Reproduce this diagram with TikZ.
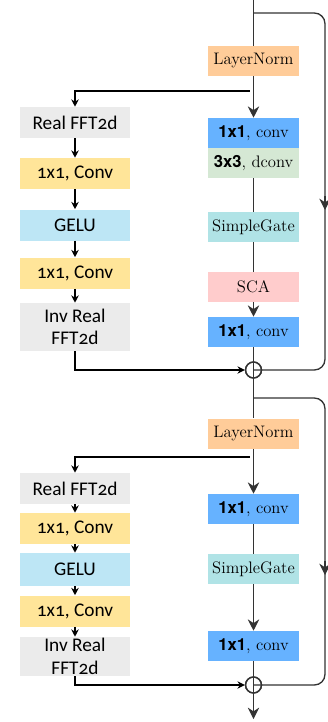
\documentclass[tikz,border=0pt]{standalone}
\usepackage{fontspec}
\newfontfamily\blockfont[Numbers=OldStyle]{Carlito}
\newfontfamily\numfont{TeX Gyre Heros}
\usetikzlibrary{arrows.meta,positioning}

\definecolor{lnorm}{HTML}{FFCC99}
\definecolor{convblue}{HTML}{66B2FF}
\definecolor{dconvgreen}{HTML}{D5E8D4}
\definecolor{sgate}{HTML}{B0E3E6}
\definecolor{scapink}{HTML}{FFCCCC}
\definecolor{fftgray}{HTML}{EBEBEB}
\definecolor{convyellow}{HTML}{FFE599}
\definecolor{gelublue}{HTML}{BDE6F5}
\definecolor{mainline}{HTML}{333333}

\begin{document}
\begin{tikzpicture}[x=0.75pt,y=-0.75pt]
\tikzset{
  mainbox/.style={rectangle,minimum width=68.25pt,minimum height=22.5pt,inner sep=0pt,font=\fontsize{12.5}{14}\selectfont},
  sidebox/.style={rectangle,minimum width=82.5pt,minimum height=23.25pt,inner sep=0pt,align=center,font=\blockfont\fontsize{14.5}{17}\selectfont},
  sumnode/.style={circle,draw=mainline,line width=1pt,minimum size=12pt,inner sep=0pt},
  mainedge/.style={draw=mainline,line width=1pt},
  mainarrow/.style={mainedge,-{Stealth[length=8.5pt,width=8.5pt]}},
  sideedge/.style={draw=black,line width=1.7pt},
  sidearrow/.style={sideedge,-{Stealth[length=5.5pt,width=5.5pt]}},
  skipedge/.style={mainedge,rounded corners=8pt}
}
\newcommand{\kk}[1]{{\numfont\bfseries #1}}
\useasboundingbox (0,0) rectangle (328,722);

% first block, main path
\coordinate (in1) at (253.5,0);
\coordinate (s1) at (253.5,13);
\node[mainbox,fill=lnorm] (ln1) at (253.5,61) {LayerNorm};
\coordinate (br1) at (253.5,91);
\node[mainbox,fill=convblue] (cv1a) at (253.5,133) {\kk{1x1}, conv};
\node[mainbox,fill=dconvgreen] (dcv1) at (253.5,163) {\kk{3x3}, dconv};
\node[mainbox,fill=sgate] (sg1) at (253.5,227) {SimpleGate};
\node[mainbox,fill=scapink] (sca1) at (253.5,287) {SCA};
\node[mainbox,fill=convblue] (cv1b) at (253.5,332) {\kk{1x1}, conv};
\node[sumnode] (sum1) at (253.5,370) {};

% first block, frequency branch
\node[sidebox,fill=fftgray] (fft1) at (75,122.5) {Real FFT2d};
\node[sidebox,fill=convyellow] (fc1a) at (75,173.5) {1x1, Conv};
\node[sidebox,fill=gelublue] (gelu1) at (75,225) {GELU};
\node[sidebox,fill=convyellow] (fc1b) at (75,273) {1x1, Conv};
\node[sidebox,fill=fftgray,minimum height=36pt] (ifft1) at (75,327) {Inv Real\\FFT2d};
\coordinate (bl1) at (75,91);
\coordinate (bk1) at (75,370);

% first block, skip path
\coordinate (sk1a) at (325,13);
\coordinate (sk1m) at (325,196);
\coordinate (sk1n) at (325,210);
\coordinate (sk1b) at (325,370);

% second block, main path
\coordinate (s2) at (253.5,398);
\node[mainbox,fill=lnorm] (ln2) at (253.5,433.5) {LayerNorm};
\coordinate (br2) at (253.5,457);
\node[mainbox,fill=convblue] (cv2a) at (253.5,509) {\kk{1x1}, conv};
\node[mainbox,fill=sgate] (sg2) at (253.5,569) {SimpleGate};
\node[mainbox,fill=convblue] (cv2b) at (253.5,646) {\kk{1x1}, conv};
\node[sumnode] (sum2) at (253.5,685) {};
\coordinate (out2) at (253.5,719);

% second block, frequency branch
\node[sidebox,fill=fftgray] (fft2) at (75,488.5) {Real FFT2d};
\node[sidebox,fill=convyellow] (fc2a) at (75,528.5) {1x1, Conv};
\node[sidebox,fill=gelublue,minimum height=24.75pt] (gelu2) at (75,569.5) {GELU};
\node[sidebox,fill=convyellow] (fc2b) at (75,611) {1x1, Conv};
\node[sidebox,fill=fftgray,minimum height=29.25pt] (ifft2) at (75,656.5) {Inv Real\\FFT2d};
\coordinate (bl2) at (75,457);
\coordinate (bk2) at (75,685);

% second block, skip path
\coordinate (sk2a) at (325,398);
\coordinate (sk2m) at (325,561);
\coordinate (sk2n) at (325,575);
\coordinate (sk2b) at (325,685);

% main connectors
\draw[mainedge] (in1) -- (ln1);
\draw[mainarrow] (ln1) -- (cv1a);
\draw[mainedge] (dcv1) -- (sg1);
\draw[mainedge] (sg1) -- (sca1);
\draw[mainarrow] (sca1) -- (cv1b);
\draw[mainedge] (cv1b) -- (sum1.center);
\draw[mainedge] (sum1.center) -- (ln2);
\draw[mainarrow] (ln2) -- (cv2a);
\draw[mainedge] (cv2a) -- (sg2);
\draw[mainarrow] (sg2) -- (cv2b);
\draw[mainedge] (cv2b) -- (sum2.center);
\draw[mainarrow] (sum2.center) -- (out2);

% skip connectors
\draw[skipedge] (s1) -- (sk1a) -- (sk1b) -- (sum1.center);
\draw[mainarrow] (sk1m) -- (sk1n);
\draw[skipedge] (s2) -- (sk2a) -- (sk2b) -- (sum2.center);
\draw[mainarrow] (sk2m) -- (sk2n);

% frequency connectors
\draw[sidearrow] ([xshift=-3pt]br1) -- (bl1) -- (fft1);
\draw[sidearrow] (fft1) -- (fc1a);
\draw[sidearrow] (fc1a) -- (gelu1);
\draw[sidearrow] (gelu1) -- (fc1b);
\draw[sidearrow] (fc1b) -- (ifft1);
\draw[sidearrow] (ifft1) -- (bk1) -- (sum1);
\draw[sidearrow] ([xshift=-3pt]br2) -- (bl2) -- (fft2);
\draw[sidearrow] (fft2) -- (fc2a);
\draw[sidearrow] (fc2a) -- (gelu2);
\draw[sidearrow] (gelu2) -- (fc2b);
\draw[sidearrow] (fc2b) -- (ifft2);
\draw[sidearrow] (ifft2) -- (bk2) -- (sum2);

\node[sumnode] at (sum1) {};
\node[sumnode] at (sum2) {};
\end{tikzpicture}
\end{document}
